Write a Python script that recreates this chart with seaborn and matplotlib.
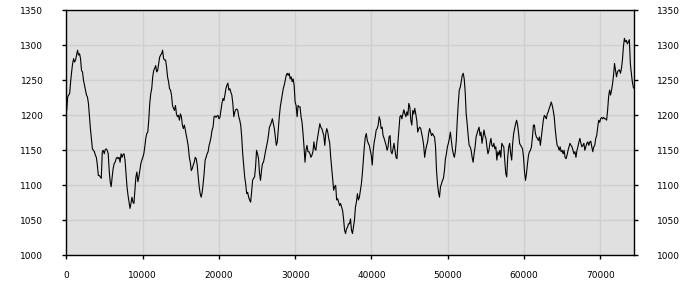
import numpy as np
import pandas as pd
import matplotlib
matplotlib.use("Agg")
import matplotlib.pyplot as plt
import seaborn as sns

# values, one per screen column (left to right)
seg1 = [1207, 1226, 1229, 1231, 1248, 1262, 1274, 1281, 1276, 1279, 1286, 1293, 1286, 1288, 1281,
        1264, 1262, 1250, 1243, 1236, 1229, 1226, 1217, 1198, 1181, 1167, 1152, 1150, 1148, 1143,
        1140, 1129, 1114, 1114, 1112, 1110, 1148, 1150, 1145, 1151, 1152, 1150, 1145, 1121, 1105,
        1098, 1112, 1124, 1131, 1133, 1138, 1140, 1138, 1140, 1133, 1145, 1140, 1144, 1145, 1136,
        1117, 1098, 1086, 1076, 1067, 1074, 1083, 1076, 1074, 1093, 1112, 1119, 1105, 1112, 1121,
        1131, 1136, 1140, 1145, 1155, 1167, 1174, 1176, 1193, 1217, 1231, 1238, 1255, 1264, 1267,
        1271, 1262, 1264, 1274, 1283, 1286]
seg2 = [1288, 1293, 1281, 1279, 1279, 1269, 1255, 1248, 1238, 1236, 1229, 1214, 1210, 1207, 1214,
        1202, 1198, 1200, 1193, 1202, 1198, 1186, 1181, 1186, 1179, 1171, 1164, 1155, 1140, 1133,
        1121, 1124, 1129, 1133, 1140, 1138, 1129, 1112, 1098, 1088, 1083, 1090, 1102, 1117, 1136,
        1140, 1145, 1148, 1157, 1162, 1169, 1179, 1183, 1198, 1199, 1197, 1199, 1200, 1195, 1197,
        1207, 1217, 1224, 1221, 1229, 1238, 1243, 1246, 1236, 1238, 1233, 1229, 1217, 1198, 1205,
        1208, 1209, 1207, 1198, 1193, 1186, 1169, 1145, 1129, 1112, 1102, 1088, 1090, 1083, 1079,
        1076, 1090, 1107, 1110, 1112]
seg3 = [1126, 1150, 1145, 1138, 1117, 1107, 1121, 1131, 1133, 1140, 1148, 1155, 1162, 1171, 1183,
        1186, 1190, 1195, 1188, 1181, 1169, 1157, 1162, 1181, 1198, 1212, 1221, 1231, 1238, 1243,
        1250, 1257, 1260, 1257, 1260, 1252, 1255, 1248, 1252, 1243, 1219, 1214, 1198, 1214, 1212,
        1212, 1198, 1190, 1174, 1155, 1133, 1150, 1157, 1148, 1148, 1145, 1140, 1143, 1148, 1162,
        1152, 1150, 1162, 1171, 1179, 1188, 1183, 1181, 1176, 1171, 1157, 1174, 1181, 1176, 1167,
        1160, 1140, 1124, 1107, 1093, 1098, 1100, 1079, 1081, 1076, 1071, 1074, 1069, 1064, 1052,
        1036, 1031, 1038, 1040, 1045]
seg4 = [1045, 1052, 1036, 1031, 1040, 1050, 1069, 1076, 1088, 1079, 1083, 1093, 1102, 1117, 1136,
        1155, 1169, 1174, 1164, 1160, 1157, 1150, 1143, 1129, 1150, 1162, 1169, 1179, 1181, 1186,
        1198, 1193, 1181, 1183, 1171, 1167, 1162, 1157, 1150, 1155, 1169, 1171, 1148, 1145, 1152,
        1160, 1150, 1140, 1138, 1162, 1181, 1198, 1200, 1195, 1202, 1208, 1202, 1198, 1205, 1200,
        1217, 1212, 1193, 1186, 1207, 1202, 1210, 1202, 1193, 1176, 1181, 1183, 1181, 1174, 1167,
        1157, 1140, 1150, 1157, 1162, 1174, 1181, 1176, 1171, 1174, 1171, 1169, 1155, 1121, 1102,
        1090, 1083, 1098, 1102, 1107]
seg5 = [1110, 1121, 1138, 1145, 1155, 1160, 1167, 1176, 1164, 1152, 1145, 1140, 1148, 1164, 1193,
        1217, 1236, 1240, 1248, 1257, 1260, 1252, 1233, 1202, 1188, 1171, 1157, 1155, 1150, 1140,
        1133, 1145, 1155, 1169, 1174, 1179, 1183, 1171, 1176, 1160, 1169, 1179, 1171, 1167, 1155,
        1145, 1150, 1160, 1167, 1157, 1155, 1160, 1152, 1155, 1136, 1148, 1143, 1150, 1140, 1160,
        1157, 1155, 1136, 1117, 1112, 1140, 1155, 1160, 1145, 1136, 1160, 1174, 1181, 1188, 1193,
        1186, 1174, 1160, 1157, 1155, 1152, 1140, 1119, 1107, 1117, 1131, 1143, 1148, 1150, 1155,
        1169, 1186, 1186, 1174, 1169]
seg6 = [1167, 1164, 1169, 1157, 1169, 1181, 1193, 1200, 1198, 1195, 1202, 1205, 1210, 1214, 1219,
        1214, 1207, 1198, 1181, 1167, 1157, 1155, 1150, 1155, 1148, 1150, 1145, 1150, 1140, 1138,
        1143, 1150, 1155, 1160, 1157, 1155, 1150, 1145, 1148, 1140, 1150, 1155, 1162, 1167, 1160,
        1155, 1157, 1160, 1150, 1155, 1160, 1162, 1157, 1162, 1163, 1155, 1148, 1155, 1157, 1167,
        1171, 1183, 1193, 1190, 1195, 1197, 1195, 1197, 1195, 1195, 1193, 1207, 1226, 1236, 1229,
        1236, 1245, 1257, 1274, 1264, 1255, 1262, 1264, 1265, 1260, 1267, 1279, 1298, 1310, 1305,
        1307, 1302, 1305, 1308, 1274, 1260, 1248, 1240, 1238]

values = seg1 + seg2 + seg3 + seg4 + seg5 + seg6
x_first, x_last = 50, 74450
x_ticks = [0, 10000, 20000, 30000, 40000, 50000, 60000, 70000]
y_ticks = [1000, 1050, 1100, 1150, 1200, 1250, 1300, 1350]

df = pd.DataFrame({"x": np.linspace(x_first, x_last, len(values)), "y": values})

fig = plt.figure(figsize=(7, 3), dpi=100)
ax = fig.add_axes([66.3 / 700, 1 - 255.3 / 300, (634.3 - 66.3) / 700, (255.3 - 10.3) / 300])
ax.set_facecolor("#e0e0e0")
sns.lineplot(data=df, x="x", y="y", ax=ax, color="black", linewidth=0.8, zorder=3)

ax.set_xlim(0, 74450)
ax.set_ylim(1000, 1350)
ax.set_xticks(x_ticks)
ax.set_xticklabels([str(t) for t in x_ticks])
ax.set_yticks(y_ticks)
ax.set_yticklabels([str(t) for t in y_ticks])
ax.grid(True, color="#cfcfcf", linewidth=1.0, zorder=0)
ax.set_axisbelow(True)
ax.set_xlabel("")
ax.set_ylabel("")
for s in ax.spines.values():
    s.set_color("black")
    s.set_linewidth(1.0)
ax.tick_params(axis="y", which="major", left=True, right=True, labelleft=True, labelright=True,
               direction="out", length=3, width=1, pad=13.5, labelsize=6.5, colors="black")
ax.tick_params(axis="x", which="major", bottom=True, direction="out", length=3, width=1,
               pad=8.5, labelsize=6.5, colors="black")

fig.savefig("out.png", dpi=100)
